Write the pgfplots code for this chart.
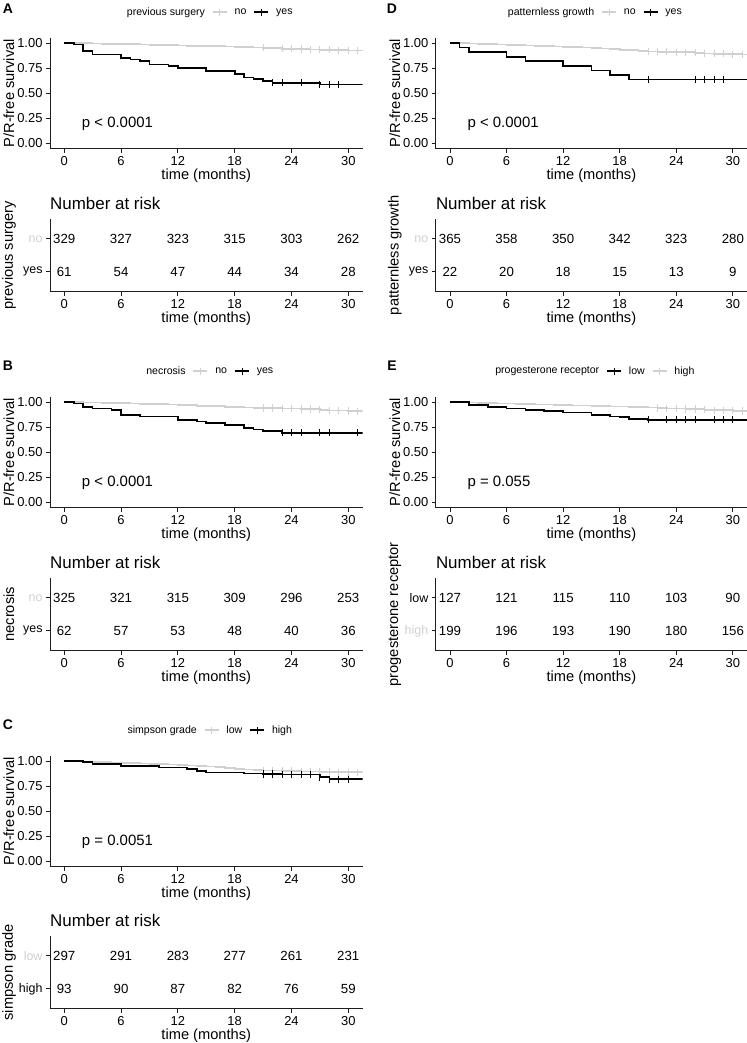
\documentclass[border=0pt]{standalone}
\usepackage{pgfplots}
\pgfplotsset{compat=1.18}
\usepackage{fontspec}
\setmainfont{Liberation Sans}
\definecolor{lgrey}{RGB}{208,208,208}
\definecolor{axcol}{RGB}{30,30,30}
\newcommand{\fs}[1]{\fontsize{#1}{#1}\selectfont}
\pgfplotsset{
 base/.style={scale only axis, xmin=-1.5, xmax=31.5,
   axis x line=bottom, axis y line=left,
   axis line style={-, axcol, line width=0.8bp},
   tick align=outside, major tick length=4bp,
   tick style={axcol, line width=0.8bp},
   xtick={0,6,...,30},
   /pgf/number format/assume math mode=true,
   tick label style={font=\fs{13}, text=black},
   xlabel={time (months)},
   every axis x label/.style={at={(rel axis cs:0.5,0)}, anchor=center, yshift=-27bp, font=\fs{14.7}},
   every axis y label/.style={at={(rel axis cs:0,0.5)}, xshift=-41bp, rotate=90, anchor=center, font=\fs{14.7}},
 },
 km/.style={base, height=110.5bp, ymin=-0.05, ymax=1.05,
   ytick={0,0.25,0.5,0.75,1}, yticklabels={0.00,0.25,0.50,0.75,1.00},
   ylabel={P/R-free survival},
   legend columns=-1,
   legend image code/.code={\draw[##1, line width=1.7bp] (0bp,0bp) -- (14bp,0bp); \draw[##1, line width=0.8bp] (7bp,-3.5bp) -- (7bp,3.5bp);},
   legend style={at={(rel axis cs:0.5,1)}, anchor=center, yshift=26bp, draw=none, fill=none,
     font=\fs{10.6}, inner sep=0pt, nodes={inner sep=0pt, anchor=west},
     /tikz/every odd column/.append style={column sep=7bp},
     /tikz/every even column/.append style={column sep=7bp}},
 },
 risk/.style={base, height=72.6bp, ymin=0.4, ymax=2.6, ytick={1,2},
   yticklabel style={font=\fs{12.5}},
   title={Number at risk},
   every axis title/.style={at={(rel axis cs:0,1)}, anchor=west, yshift=16bp, font=\fs{17}, inner sep=0pt},
 },
 grey/.style={lgrey, line width=1.7bp, const plot},
 blk/.style={black, line width=1.7bp, const plot},
 cgrey/.style={only marks, mark=|, mark size=3.6bp, mark options={lgrey, line width=0.8bp}},
 cblk/.style={only marks, mark=|, mark size=3.6bp, mark options={black, line width=0.8bp}},
 num/.style={draw=none, forget plot, nodes near coords, point meta=explicit symbolic,
   nodes near coords style={anchor=center, font=\fs{13.3}, text=black}},
}
\begin{document}
\begin{tikzpicture}
\useasboundingbox (0,0) rectangle (747bp,-1043bp);
\node[font=\bfseries\fs{14}] at (8bp,-9bp) {A};
\node[font=\bfseries\fs{14}] at (8bp,-366bp) {B};
\node[font=\bfseries\fs{14}] at (8bp,-725bp) {C};
\node[font=\bfseries\fs{14}] at (392bp,-9bp) {D};
\node[font=\bfseries\fs{14}] at (392bp,-366bp) {E};

% ---------------- A ----------------
\begin{axis}[km, at={(50bp,-38bp)}, anchor=north west, width=312.5bp]
\addlegendimage{empty legend}\addlegendentry{previous surgery}
\addlegendimage{lgrey}\addlegendentry{no}
\addlegendimage{black}\addlegendentry{yes}
\addplot[grey, forget plot] coordinates {(0,1) (1,0.997) (3,0.994) (4,0.991) (6,0.988) (8,0.985) (9,0.982) (11,0.979) (12,0.976) (13,0.973) (14,0.970) (15,0.967) (17,0.964) (18,0.961) (19,0.958) (20,0.955) (21,0.952) (23,0.944) (25,0.940) (26,0.936) (27,0.932) (29,0.928) (30,0.925) (31.5,0.925)};
\addplot[cgrey, forget plot] coordinates {(21,0.952) (23,0.944) (24,0.944) (25,0.940) (26,0.936) (27,0.932) (28,0.932) (29,0.928) (30,0.925) (31,0.925)};
\addplot[blk, forget plot] coordinates {(0,1) (1,0.984) (2,0.918) (3,0.885) (6,0.852) (7,0.836) (8,0.820) (9,0.787) (11,0.770) (12,0.754) (15,0.721) (18,0.689) (19,0.656) (20,0.639) (21,0.622) (22,0.605) (27,0.587) (31.5,0.587)};
\addplot[cblk, forget plot] coordinates {(22,0.605) (23,0.605) (25,0.605) (27,0.587) (28,0.587) (29,0.587)};
\node[anchor=west, font=\fs{15}, inner sep=0pt] at (axis cs:1.85,0.2) {p < 0.0001};
\end{axis}
\begin{axis}[risk, at={(50bp,-219bp)}, anchor=north west, width=312.5bp,
  yticklabels={\textcolor{black}{yes},\textcolor{lgrey}{no}}, ylabel={previous surgery}]
\addplot[num] coordinates {(0,2)[329] (6,2)[327] (12,2)[323] (18,2)[315] (24,2)[303] (30,2)[262]
 (0,1)[61] (6,1)[54] (12,1)[47] (18,1)[44] (24,1)[34] (30,1)[28]};
\end{axis}

% ---------------- B ----------------
\begin{axis}[km, at={(50bp,-397bp)}, anchor=north west, width=312.5bp]
\addlegendimage{empty legend}\addlegendentry{necrosis}
\addlegendimage{lgrey}\addlegendentry{no}
\addlegendimage{black}\addlegendentry{yes}
\addplot[grey, forget plot] coordinates {(0,1) (1,0.997) (2,0.994) (4,0.991) (5,0.988) (7,0.985) (8,0.982) (10,0.979) (11,0.976) (12,0.972) (13,0.968) (14,0.962) (15,0.957) (17,0.953) (18,0.949) (19,0.945) (20,0.942) (21,0.940) (23,0.935) (25,0.930) (27,0.922) (28,0.916) (30,0.910) (31,0.908) (31.5,0.908)};
\addplot[cgrey, forget plot] coordinates {(21,0.940) (22,0.940) (23,0.935) (24,0.935) (25,0.930) (26,0.930) (27,0.922) (28,0.916) (29,0.916) (30,0.910) (31,0.908)};
\addplot[blk, forget plot] coordinates {(0,1) (1,0.984) (2,0.952) (3,0.935) (5,0.919) (6,0.871) (8,0.855) (12,0.823) (14,0.806) (15,0.790) (17,0.774) (19,0.742) (20,0.726) (21,0.710) (23,0.694) (31.5,0.694)};
\addplot[cblk, forget plot] coordinates {(23,0.694) (24,0.694) (25,0.694) (27,0.694) (28,0.694) (31,0.694)};
\node[anchor=west, font=\fs{15}, inner sep=0pt] at (axis cs:1.85,0.2) {p < 0.0001};
\end{axis}
\begin{axis}[risk, at={(50bp,-578bp)}, anchor=north west, width=312.5bp,
  yticklabels={\textcolor{black}{yes},\textcolor{lgrey}{no}}, ylabel={necrosis}]
\addplot[num] coordinates {(0,2)[325] (6,2)[321] (12,2)[315] (18,2)[309] (24,2)[296] (30,2)[253]
 (0,1)[62] (6,1)[57] (12,1)[53] (18,1)[48] (24,1)[40] (30,1)[36]};
\end{axis}

% ---------------- C ----------------
\begin{axis}[km, at={(50bp,-756bp)}, anchor=north west, width=312.5bp]
\addlegendimage{empty legend}\addlegendentry{simpson grade}
\addlegendimage{lgrey}\addlegendentry{low}
\addlegendimage{black}\addlegendentry{high}
\addplot[grey, forget plot] coordinates {(0,1) (1,0.997) (2,0.994) (3,0.991) (4,0.988) (5,0.985) (6,0.982) (7,0.979) (8,0.976) (9,0.973) (10,0.969) (11,0.965) (12,0.961) (13,0.957) (14,0.953) (15,0.947) (16,0.940) (17,0.932) (18,0.924) (19,0.917) (20,0.911) (21,0.906) (23,0.901) (25,0.896) (27,0.892) (29,0.889) (31.5,0.889)};
\addplot[cgrey, forget plot] coordinates {(21,0.906) (22,0.906) (23,0.901) (24,0.901) (25,0.896) (26,0.896) (27,0.892) (28,0.892) (29,0.889) (30,0.889) (31,0.889)};
\addplot[blk, forget plot] coordinates {(0,1) (2,0.989) (3,0.973) (6,0.951) (10,0.936) (13,0.920) (14,0.903) (15,0.887) (19,0.876) (21,0.871) (23,0.866) (27,0.840) (28,0.820) (31.5,0.820)};
\addplot[cblk, forget plot] coordinates {(21,0.871) (22,0.871) (23,0.866) (24,0.866) (25,0.866) (26,0.866) (27,0.840) (28,0.820) (29,0.820) (30,0.820)};
\node[anchor=west, font=\fs{15}, inner sep=0pt] at (axis cs:1.85,0.2) {p = 0.0051};
\end{axis}
\begin{axis}[risk, at={(50bp,-936bp)}, anchor=north west, width=312.5bp,
  yticklabels={\textcolor{black}{high},\textcolor{lgrey}{low}}, ylabel={simpson grade}]
\addplot[num] coordinates {(0,2)[297] (6,2)[291] (12,2)[283] (18,2)[277] (24,2)[261] (30,2)[231]
 (0,1)[93] (6,1)[90] (12,1)[87] (18,1)[82] (24,1)[76] (30,1)[59]};
\end{axis}

% ---------------- D ----------------
\begin{axis}[km, at={(435.8bp,-38bp)}, anchor=north west, width=311.2bp]
\addlegendimage{empty legend}\addlegendentry{patternless growth}
\addlegendimage{lgrey}\addlegendentry{no}
\addlegendimage{black}\addlegendentry{yes}
\addplot[grey, forget plot] coordinates {(0,1) (1,0.997) (2,0.994) (3,0.991) (4,0.988) (5,0.985) (6,0.981) (7,0.978) (8,0.975) (9,0.972) (10,0.968) (11,0.965) (12,0.962) (13,0.958) (14,0.954) (15,0.950) (16,0.946) (17,0.940) (18,0.934) (19,0.928) (20,0.922) (21,0.917) (22,0.913) (24,0.908) (26,0.902) (27,0.897) (28,0.893) (30,0.888) (31,0.885) (31.5,0.885)};
\addplot[cgrey, forget plot] coordinates {(21,0.917) (22,0.913) (23,0.913) (24,0.908) (25,0.908) (26,0.902) (27,0.897) (28,0.893) (29,0.893) (30,0.888) (31,0.885)};
\addplot[blk, forget plot] coordinates {(0,1) (1,0.955) (2,0.909) (6,0.864) (8,0.818) (12,0.773) (15,0.727) (17,0.682) (19,0.636) (31.5,0.636)};
\addplot[cblk, forget plot] coordinates {(21,0.636) (26,0.636) (27,0.636) (28,0.636) (29,0.636)};
\node[anchor=west, font=\fs{15}, inner sep=0pt] at (axis cs:1.85,0.2) {p < 0.0001};
\end{axis}
\begin{axis}[risk, at={(435.8bp,-219bp)}, anchor=north west, width=311.2bp,
  yticklabels={\textcolor{black}{yes},\textcolor{lgrey}{no}}, ylabel={patternless growth}]
\addplot[num] coordinates {(0,2)[365] (6,2)[358] (12,2)[350] (18,2)[342] (24,2)[323] (30,2)[280]
 (0,1)[22] (6,1)[20] (12,1)[18] (18,1)[15] (24,1)[13] (30,1)[9]};
\end{axis}

% ---------------- E ----------------
\begin{axis}[km, at={(435.8bp,-397bp)}, anchor=north west, width=311.2bp]
\addlegendimage{empty legend}\addlegendentry{progesterone receptor}
\addlegendimage{black}\addlegendentry{low}
\addlegendimage{lgrey}\addlegendentry{high}
\addplot[grey, forget plot] coordinates {(0,1) (2,0.995) (3,0.990) (5,0.985) (7,0.980) (9,0.975) (11,0.970) (13,0.965) (15,0.960) (17,0.955) (19,0.950) (21,0.945) (22,0.940) (23,0.935) (25,0.930) (27,0.924) (28,0.918) (30,0.913) (31,0.910) (31.5,0.910)};
\addplot[cgrey, forget plot] coordinates {(22,0.940) (23,0.935) (24,0.935) (25,0.930) (26,0.930) (27,0.924) (28,0.918) (29,0.918) (30,0.913) (31,0.910)};
\addplot[blk, forget plot] coordinates {(0,1) (2,0.968) (4,0.952) (6,0.936) (8,0.920) (10,0.912) (12,0.896) (15,0.872) (17,0.856) (18,0.848) (19,0.832) (21,0.824) (31.5,0.824)};
\addplot[cblk, forget plot] coordinates {(21,0.824) (23,0.824) (24,0.824) (25,0.824) (26,0.824) (28,0.824) (29,0.824) (30,0.824)};
\node[anchor=west, font=\fs{15}, inner sep=0pt] at (axis cs:1.85,0.2) {p = 0.055};
\end{axis}
\begin{axis}[risk, at={(435.8bp,-578bp)}, anchor=north west, width=311.2bp,
  yticklabels={\textcolor{lgrey}{high},\textcolor{black}{low}}, ylabel={progesterone receptor}]
\addplot[num] coordinates {(0,2)[127] (6,2)[121] (12,2)[115] (18,2)[110] (24,2)[103] (30,2)[90]
 (0,1)[199] (6,1)[196] (12,1)[193] (18,1)[190] (24,1)[180] (30,1)[156]};
\end{axis}
\end{tikzpicture}
\end{document}
